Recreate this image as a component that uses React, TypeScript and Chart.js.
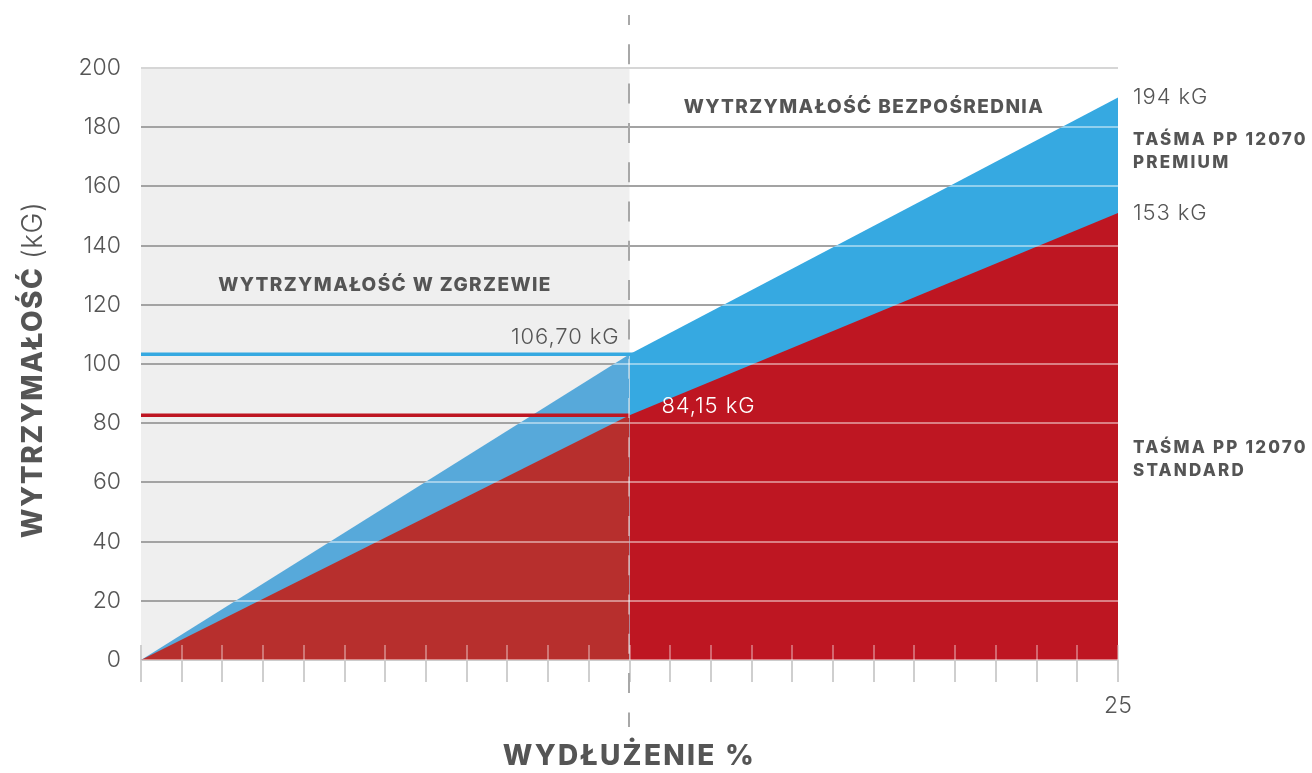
import { useEffect, useRef } from 'react';
import { Chart, registerables } from 'chart.js';

Chart.register(...registerables);

// ---- data ----
const X_MIN = 0;
const X_MAX = 25;
const X_SPLIT = 12.5;
const X_TICK_STEPS = 24;
const xTickLabels: Record<string, string> = { '25': '25' };

const leftX = [0, 12.5];
const rightX = [12.5, 25];
const premiumLeft = [0, 103.3];
const premiumRight = [103.3, 190];
const standardLeft = [0, 82.7];
const standardRight = [82.7, 151];

const levelX = [0, 12.7];
const premiumLevel = [103.3, 103.3];
const standardLevel = [82.7, 82.7];
const standardLevelX = [0, 12.5];

const yTicks = [0, 20, 40, 60, 80, 100, 120, 140, 160, 180, 200];

const COLORS = {
  premium: '#36a9e1',
  premiumLeft: '#57a9da',
  standard: '#be1622',
  standardLeft: '#b72f2d',
  grid: '#a3a3a3',
  gridTop: '#d6d6d6',
  text: '#555555',
  shade: '#efefef',
};

const FONT = 'Inter, "Open Sans", sans-serif';

const pts = (xs: number[], ys: number[]) => xs.map((x, i) => ({ x, y: ys[i] }));

const overlayPlugin = {
  id: 'overlay',
  beforeDraw(chart: any) {
    const { ctx, chartArea, scales } = chart;
    const xs = scales.x.getPixelForValue(X_SPLIT);
    ctx.save();
    ctx.fillStyle = COLORS.shade;
    ctx.fillRect(chartArea.left, chartArea.top, xs - chartArea.left, chartArea.bottom - chartArea.top);
    ctx.restore();
  },
  beforeDatasetsDraw(chart: any) {
    drawStubsAndDash(chart, '#cfcfcf', '#a8a8a8');
  },
  afterDatasetsDraw(chart: any) {
    const { ctx, chartArea, scales } = chart;
    const x = scales.x, y = scales.y;
    ctx.save();
    ctx.beginPath();
    ctx.moveTo(x.getPixelForValue(leftX[0]), y.getPixelForValue(premiumLeft[0]) + 2);
    ctx.lineTo(x.getPixelForValue(leftX[0]), y.getPixelForValue(premiumLeft[0]));
    ctx.lineTo(x.getPixelForValue(leftX[1]), y.getPixelForValue(premiumLeft[1]));
    ctx.lineTo(x.getPixelForValue(rightX[1]), y.getPixelForValue(premiumRight[1]));
    ctx.lineTo(x.getPixelForValue(rightX[1]) + 1, y.getPixelForValue(premiumRight[1]));
    ctx.lineTo(x.getPixelForValue(rightX[1]) + 1, y.getPixelForValue(0) + 2);
    ctx.closePath();
    ctx.clip();
    ctx.strokeStyle = 'rgba(255,255,255,0.45)';
    ctx.lineWidth = 2;
    yTicks.forEach((t) => {
      const py = Math.round(y.getPixelForValue(t));
      ctx.beginPath();
      ctx.moveTo(chartArea.left, py);
      ctx.lineTo(chartArea.right, py);
      ctx.stroke();
    });
    ctx.restore();
    ctx.save();
    ctx.beginPath();
    ctx.moveTo(x.getPixelForValue(leftX[0]), y.getPixelForValue(0) + 2);
    ctx.lineTo(x.getPixelForValue(leftX[0]), y.getPixelForValue(premiumLeft[0]));
    ctx.lineTo(x.getPixelForValue(leftX[1]), y.getPixelForValue(premiumLeft[1]));
    ctx.lineTo(x.getPixelForValue(rightX[1]), y.getPixelForValue(premiumRight[1]));
    ctx.lineTo(x.getPixelForValue(rightX[1]) + 1, y.getPixelForValue(0) + 2);
    ctx.closePath();
    ctx.clip();
    drawStubsAndDash(chart, 'rgba(255,255,255,0.35)', 'rgba(255,255,255,0.45)');
    ctx.restore();
  },
  afterDraw(chart: any) {
    const { ctx, chartArea, scales } = chart;
    const y = scales.y;
    const xs = scales.x.getPixelForValue(X_SPLIT);
    const xr = chartArea.right;
    const c = ctx as any;
    ctx.save();
    ctx.textBaseline = 'middle';

    const light = `300 22px ${FONT}`;
    const bold = `800 17px ${FONT}`;

    // Region titles
    ctx.fillStyle = COLORS.text;
    ctx.font = `800 19px ${FONT}`;
    ctx.textAlign = 'center';
    c.letterSpacing = '1.4px';
    ctx.fillText('WYTRZYMAŁOŚĆ W ZGRZEWIE', 385, 285);
    ctx.fillText('WYTRZYMAŁOŚĆ BEZPOŚREDNIA', 864, 107);

    // value labels
    c.letterSpacing = '0.9px';
    ctx.font = light;
    ctx.textAlign = 'right';
    ctx.fillStyle = COLORS.text;
    ctx.fillText('106,70 kG', xs - 10, y.getPixelForValue(premiumLevel[0]) - 17);
    ctx.textAlign = 'left';
    ctx.fillStyle = '#ffffff';
    ctx.fillText('84,15 kG', xs + 32, y.getPixelForValue(standardLevel[0]) - 9);

    ctx.fillStyle = COLORS.text;
    ctx.fillText('194 kG', xr + 15, y.getPixelForValue(premiumRight[1]));
    ctx.fillText('153 kG', xr + 15, y.getPixelForValue(standardRight[1]));

    ctx.font = bold;
    c.letterSpacing = '2.2px';
    ctx.fillText('TAŚMA PP 12070', xr + 15, 140);
    ctx.fillText('PREMIUM', xr + 15, 163);
    ctx.fillText('TAŚMA PP 12070', xr + 15, 448);
    ctx.fillText('STANDARD', xr + 15, 471);

    // x title
    c.letterSpacing = '2.3px';
    ctx.font = `800 28px ${FONT}`;
    ctx.textAlign = 'center';
    ctx.fillText('WYDŁUŻENIE %', xs, 757);

    // y title (rotated, mixed weight)
    ctx.translate(34, 370);
    ctx.rotate(-Math.PI / 2);
    const p1 = 'WYTRZYMAŁOŚĆ ';
    const p2 = '(kG)';
    c.letterSpacing = '1.5px';
    ctx.font = `800 28px ${FONT}`;
    const w1 = ctx.measureText(p1).width;
    c.letterSpacing = '0.5px';
    ctx.font = `300 28px ${FONT}`;
    const w2 = ctx.measureText(p2).width;
    const start = -(w1 + w2) / 2;
    ctx.textAlign = 'left';
    c.letterSpacing = '1.5px';
    ctx.font = `800 28px ${FONT}`;
    ctx.fillText(p1, start, 0);
    c.letterSpacing = '0.5px';
    ctx.font = `300 28px ${FONT}`;
    ctx.fillText(p2, start + w1, 0);
    ctx.restore();
  },
};

function drawStubsAndDash(chart: any, stubColor: string, dashColor: string) {
  const { ctx, chartArea, scales } = chart;
  const x = scales.x;
  ctx.save();
  ctx.strokeStyle = stubColor;
  ctx.lineWidth = 2;
  x.ticks.forEach((t: any) => {
    const px = Math.round(x.getPixelForValue(t.value));
    ctx.beginPath();
    ctx.moveTo(px, chartArea.bottom - 15);
    ctx.lineTo(px, chartArea.bottom);
    ctx.stroke();
  });
  const xs = Math.round(x.getPixelForValue(X_SPLIT)) - 1;
  ctx.strokeStyle = dashColor;
  ctx.setLineDash([20, 19.3]);
  ctx.lineDashOffset = 10;
  ctx.beginPath();
  ctx.moveTo(xs, 15);
  ctx.lineTo(xs, 727);
  ctx.stroke();
  ctx.restore();
}

export default function App() {
  const ref = useRef<HTMLCanvasElement>(null);

  useEffect(() => {
    if (!ref.current) return;
    const area = (data: { x: number; y: number }[], color: string) => ({
      data,
      borderWidth: 0,
      borderColor: color,
      backgroundColor: color,
      fill: 'origin',
      pointRadius: 0,
      tension: 0,
    });
    const level = (data: { x: number; y: number }[], color: string) => ({
      data,
      borderWidth: 3.5,
      borderColor: color,
      backgroundColor: color,
      fill: false,
      pointRadius: 0,
      tension: 0,
    });
    const chart = new Chart(ref.current, {
      type: 'line',
      data: {
        datasets: [
          level(pts(standardLevelX, standardLevel), COLORS.standard),
          level(pts(levelX, premiumLevel), COLORS.premium),
          area(pts(leftX, standardLeft), COLORS.standardLeft),
          area(pts(rightX, standardRight), COLORS.standard),
          area(pts(leftX, premiumLeft), COLORS.premiumLeft),
          area(pts(rightX, premiumRight), COLORS.premium),
        ] as any,
      },
      options: {
        responsive: false,
        animation: false,
        events: [],
        layout: { padding: { top: 68, right: 194, left: 0, bottom: 0 } },
        plugins: { legend: { display: false }, tooltip: { enabled: false } },
        scales: {
          x: {
            type: 'linear',
            min: X_MIN,
            max: X_MAX,
            afterBuildTicks: (s: any) => {
              const ticks = [];
              for (let i = 0; i <= X_TICK_STEPS; i++) ticks.push({ value: (X_MAX * i) / X_TICK_STEPS });
              s.ticks = ticks;
            },
            afterFit: (s: any) => {
              s.height = 113;
            },
            ticks: {
              autoSkip: false,
              maxRotation: 0,
              padding: 10,
              color: COLORS.text,
              font: { family: FONT, size: 23, weight: 300 as any },
              callback: (v: any) => {
                const key = String(Math.round(Number(v) * 1000) / 1000);
                return xTickLabels[key] ?? '';
              },
            },
            grid: { drawOnChartArea: false, drawTicks: true, tickLength: 22, color: '#cfcfcf', lineWidth: 2 },
            border: { display: false },
          },
          y: {
            type: 'linear',
            min: 0,
            max: 200,
            afterBuildTicks: (s: any) => {
              s.ticks = yTicks.map((v) => ({ value: v }));
            },
            afterFit: (s: any) => {
              s.width = 141;
            },
            ticks: {
              padding: 20,
              color: COLORS.text,
              font: { family: FONT, size: 23, weight: 300 as any },
            },
            grid: {
              drawTicks: false,
              lineWidth: 2,
              color: (c: any) => (c.tick && c.tick.value === 200 ? COLORS.gridTop : COLORS.grid),
            },
            border: { display: false },
          },
        },
      },
      plugins: [overlayPlugin],
    });
    return () => chart.destroy();
  }, []);

  return (
    <div style={{ position: 'fixed', left: 0, top: 0, width: 1312, height: 773, background: '#fff' }}>
      <canvas ref={ref} width={1312} height={773} style={{ display: 'block' }} />
    </div>
  );
}
